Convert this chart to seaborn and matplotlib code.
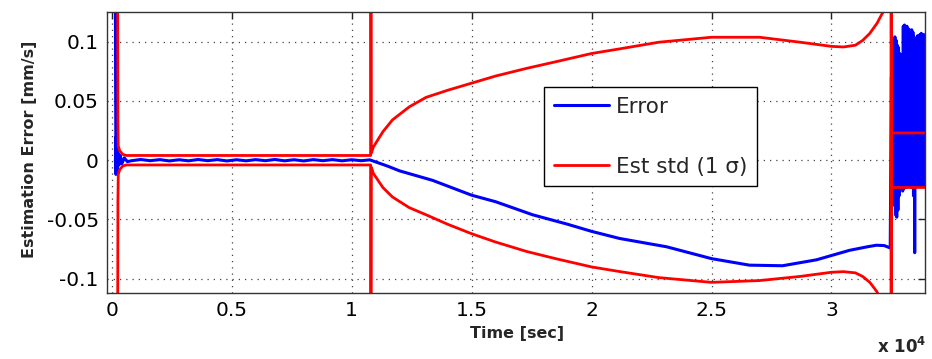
import matplotlib
matplotlib.use("Agg")
import matplotlib.pyplot as plt
import numpy as np
import pandas as pd
import seaborn as sns

sns.set_style("white")
plt.rcParams["font.family"] = ["DejaVu Sans"]
plt.rcParams["axes.unicode_minus"] = False

# ---------------- data ----------------
# Estimation error (blue): start-up transient + steady part
err_start_t = [130, 160, 175, 190, 205, 220, 240, 270, 300, 350, 420, 520, 650]
err_start_v = [0.3, 0.06, -0.012, 0.02, -0.01, 0.01, -0.007, 0.006, -0.004, 0.004, -0.003, 0.002, -0.0012]

err_steady_t = [800, 1200, 1600, 2000, 2400, 2800, 3200, 3600, 4000, 4400, 4800, 5200, 5600,
                6000, 6400, 6800, 7200, 7600, 8000, 8400, 8800, 9200, 9600, 10000, 10400, 10750]
err_steady_v = [-0.0005, 0.0006, -0.0004, 0.0005, -0.0006, 0.0004, -0.0005, 0.0006, -0.0004, 0.0005,
                -0.0006, 0.0004, -0.0005, 0.0005, -0.0004, 0.0006, -0.0005, 0.0004, -0.0006, 0.0005,
                -0.0004, 0.0005, -0.0005, 0.0004, -0.0004, 0.0003]

# drift after the first reset
err_drift_t = [10800, 11500, 12000, 13375, 15000, 16000, 17540, 19000, 20000, 21170,
               23125, 25000, 26580, 27960, 29375, 30750, 31500, 31875, 32200, 32450]
err_drift_v = [0.0, -0.005, -0.009, -0.017, -0.0295, -0.035, -0.046, -0.054, -0.060, -0.066,
               -0.073, -0.083, -0.0885, -0.089, -0.084, -0.076, -0.073, -0.0717, -0.072, -0.074]

# noisy part after the second reset
err_end_t = [32500, 32520, 32545, 32570, 32595, 32620, 32645, 32670, 32695, 32720,
             32745, 32770, 32795, 32820, 32845, 32870, 32895, 32920, 32945, 32970,
             32995, 33020, 33045, 33070, 33095, 33120, 33145, 33170, 33195, 33220,
             33245, 33270, 33295, 33320, 33345, 33370, 33395, 33420, 33445, 33470,
             33495, 33520, 33545, 33570, 33595, 33620, 33645, 33670, 33695, 33720,
             33745, 33770, 33795, 33820, 33845, 33870]
err_end_v = [0.07, -0.022, 0.098, -0.02, 0.102, -0.038, 0.104, -0.046, 0.101, -0.048,
             0.097, -0.042, 0.095, -0.03, 0.09, -0.022, 0.088, -0.021, 0.089, -0.026,
             0.113, -0.024, 0.114, -0.022, 0.112, -0.023, 0.113, -0.021, 0.111, -0.022,
             0.110, -0.022, 0.109, -0.023, 0.110, -0.022, 0.108, -0.03, 0.104, -0.078,
             0.090, -0.022, 0.098, -0.021, 0.105, -0.022, 0.104, -0.021, 0.106, -0.022,
             0.107, -0.021, 0.105, -0.022, 0.106, -0.021]

# estimated standard deviation (red), upper and lower envelopes
std_t = [230, 255, 270, 330, 450, 600, 10790, 10800, 10820, 10900, 11300, 11700, 12400, 13100,
         14000, 15000, 16000, 17300, 18500, 20000, 21200, 22800, 25000, 27000, 28700, 30000,
         30500, 31000, 31300, 31600, 31900, 32150, 32480, 32500, 32500, 33880]
std_upper = [0.3, 0.035, 0.012, 0.008, 0.005, 0.004, 0.004, 0.3, 0.006, 0.011, 0.024, 0.034,
             0.045, 0.053, 0.059, 0.065, 0.071, 0.0775, 0.083, 0.090, 0.094, 0.0995, 0.1037,
             0.1037, 0.0995, 0.096, 0.0955, 0.097, 0.101, 0.107, 0.1155, 0.125, 0.3, -0.3,
             0.023, 0.023]
std_lower = [-0.3, -0.035, -0.012, -0.008, -0.005, -0.004, -0.004, -0.3, -0.006, -0.011, -0.023,
             -0.031, -0.040, -0.046, -0.054, -0.062, -0.069, -0.077, -0.083, -0.090, -0.094,
             -0.099, -0.103, -0.1015, -0.098, -0.0945, -0.094, -0.095, -0.098, -0.103, -0.111,
             -0.125, -0.3, 0.3, -0.023, -0.023]

xtick_vals = [0, 5000, 10000, 15000, 20000, 25000, 30000]
xtick_labels = ["0", "0.5", "1", "1.5", "2", "2.5", "3"]
ytick_vals = [-0.1, -0.05, 0, 0.05, 0.1]
ytick_labels = ["-0.1", "-0.05", "0", "0.05", "0.1"]

err_t = err_start_t + err_steady_t + err_drift_t + err_end_t
err_v = err_start_v + err_steady_v + err_drift_v + err_end_v
df_err = pd.DataFrame({"t": err_t, "v": err_v})
df_std = pd.DataFrame({"t": std_t, "up": std_upper, "lo": std_lower})

# ---------------- figure ----------------
fig = plt.figure(figsize=(9.32, 3.59), dpi=100)
ax = fig.add_axes([0.1148, 0.1838, 0.8777, 0.7828])

sns.lineplot(data=df_err, x="t", y="v", sort=False, estimator=None, color="#0000ff",
             lw=2.2, ax=ax, label="Error")
sns.lineplot(data=df_std, x="t", y="up", sort=False, estimator=None, color="#ff0000",
             lw=2, ax=ax, label="Est std (1 σ)")
sns.lineplot(data=df_std, x="t", y="lo", sort=False, estimator=None, color="#ff0000",
             lw=2, ax=ax, label="_nolegend_")

ax.set_xlim(-200, 33900)
ax.set_ylim(-0.112, 0.125)
ax.set_xticks(xtick_vals)
ax.set_xticklabels(xtick_labels)
ax.set_yticks(ytick_vals)
ax.set_yticklabels(ytick_labels)
ax.tick_params(direction="in", length=5, width=1, top=True, right=True,
               labelsize=14.5, pad=6, colors="#222222", labelcolor="black")

for s in ax.spines.values():
    s.set_visible(True)
    s.set_color("#333333")
    s.set_linewidth(1)

ax.grid(True, which="major", linestyle=(0, (1, 4)), color="#444444", lw=0.9)
ax.set_axisbelow(True)

ax.set_xlabel("Time [sec]", fontsize=11.5, fontweight="bold")
ax.set_ylabel("Estimation Error [mm/s]", fontsize=11.5, fontweight="bold")
ax.xaxis.set_label_coords(0.501, -0.117)
ax.yaxis.set_label_coords(-0.086, 0.51)

fig.text(926 / 932, 2 / 359, r"x 10$^{\mathbf{4}}$", fontsize=12, fontweight="bold",
         ha="right", va="bottom")

lines = ax.get_lines()
leg = ax.legend(handles=lines[:2], labels=["Error", "Est std (1 σ)"], loc="upper left",
                bbox_to_anchor=(0.534, 0.733), borderaxespad=0, fontsize=15.5,
                labelspacing=1.85, handlelength=2.6, handletextpad=0.3, borderpad=0.45,
                fancybox=False, framealpha=1, edgecolor="black")
leg.get_frame().set_linewidth(1)

fig.savefig("out.png", dpi=100)
